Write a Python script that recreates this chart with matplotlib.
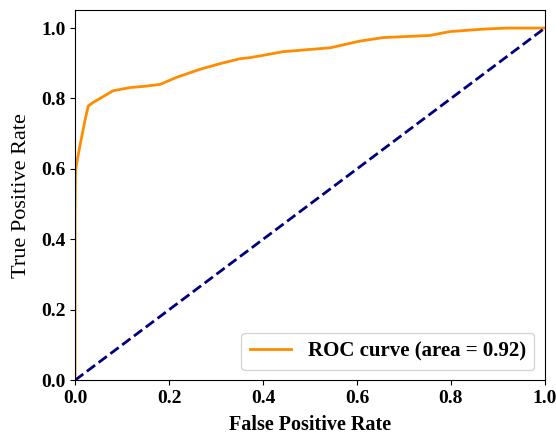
import numpy as np
import matplotlib
matplotlib.use('Agg')
import matplotlib.pyplot as plt

# ROC points
fpr = [0.0, 0.0, 0.001, 0.004, 0.011, 0.021, 0.028, 0.040, 0.053, 0.081, 0.117,
       0.150, 0.181, 0.216, 0.266, 0.309, 0.351, 0.372, 0.394, 0.443, 0.543,
       0.606, 0.656, 0.755, 0.798, 0.869, 0.919, 1.0]
tpr = [0.0, 0.48, 0.595, 0.62, 0.67, 0.737, 0.779, 0.790, 0.800, 0.822, 0.831,
       0.835, 0.840, 0.860, 0.883, 0.899, 0.913, 0.916, 0.921, 0.933, 0.944,
       0.963, 0.973, 0.979, 0.990, 0.997, 1.0, 1.0]
roc_auc = 0.92

plt.rcParams['font.family'] = ['Liberation Serif', 'DejaVu Serif']
plt.rcParams['font.weight'] = 'bold'
plt.rcParams['font.size'] = 14

fig = plt.figure(figsize=(5.56, 4.36), dpi=100)
ax = fig.add_axes([0.135, 0.128, 0.845, 0.848])
ax.plot(fpr, tpr, color='darkorange', lw=2, label='ROC curve (area = %0.2f)' % roc_auc)
ax.plot([0, 1], [0, 1], color='navy', lw=2, linestyle='--')
ax.set_xlim([0.0, 1.0])
ax.set_ylim([0.0, 1.05])
ax.set_xlabel('False Positive Rate', fontweight='bold', fontsize=14.5, labelpad=6)
ax.set_ylabel('True Positive Rate', fontweight='normal', fontsize=16, labelpad=7)
ax.legend(loc='lower right', fontsize=15)

fig.savefig('out.png', dpi=100)
